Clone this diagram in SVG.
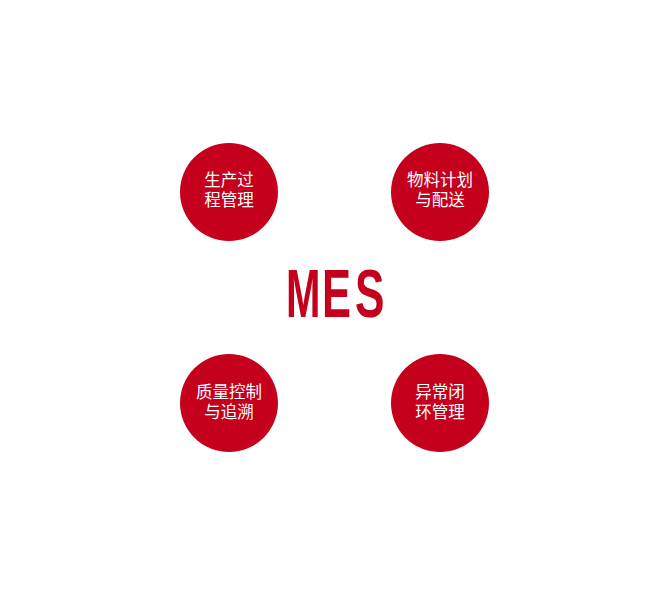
<svg xmlns="http://www.w3.org/2000/svg" width="667" height="594" viewBox="0 0 667 594">
<style>
.c{fill:#c4001c}
.t{fill:#fff;font-family:"Noto Sans CJK SC","Noto Sans",sans-serif;font-size:16.5px;text-anchor:middle}
.m{fill:#c4001c;font-family:"Liberation Sans",Arial,sans-serif;font-weight:bold;font-size:69px}
</style>
<rect width="667" height="594" fill="#fff"/>
<g id="connectors"></g>
<g id="mes">
<text class="m" transform="translate(286,317) scale(0.6,1)">M</text>
<text class="m" transform="translate(322,317) scale(0.63,1)">E</text>
<text class="m" transform="translate(355,317) scale(0.64,1)">S</text>
</g>
<g id="n1"><circle class="c" cx="229" cy="192" r="49"/><text class="t" x="229" y="186">生产过</text><text class="t" x="229" y="206">程管理</text></g>
<g id="n2"><circle class="c" cx="440" cy="192" r="49"/><text class="t" x="440" y="186">物料计划</text><text class="t" x="440" y="206">与配送</text></g>
<g id="n3"><circle class="c" cx="229" cy="403" r="49"/><text class="t" x="229" y="398">质量控制</text><text class="t" x="229" y="418">与追溯</text></g>
<g id="n4"><circle class="c" cx="440" cy="403" r="49"/><text class="t" x="440" y="398">异常闭</text><text class="t" x="440" y="418">环管理</text></g>
</svg>
